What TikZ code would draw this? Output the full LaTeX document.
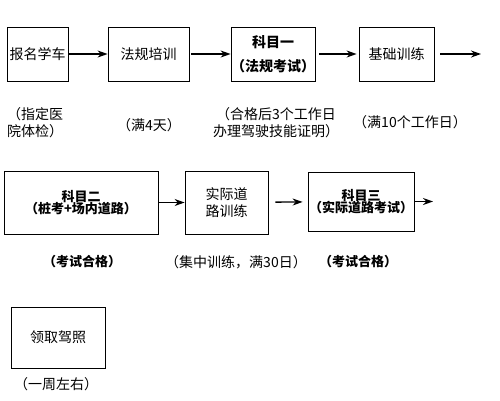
\documentclass[tikz,border=0pt]{standalone}
\usepackage{fontspec}
\setmainfont{Noto Sans CJK SC}
\usetikzlibrary{arrows.meta}
\begin{document}
\begin{tikzpicture}
[
    x=1pt, y=-1pt,
    font=\fontsize{14}{17}\selectfont,
    common/.style={shape = rectangle, draw, line width=0.8pt, inner sep=0pt, align=center},
    small/.style={font=\fontsize{13}{14}\selectfont},
    note/.style={shape = rectangle, inner sep=0pt, align=center},
    flow/.style={-{Stealth[length=10pt,width=7pt]}, line width=1.3pt},
]
\useasboundingbox (0,0) rectangle (500,400);
% first row
\node[common, minimum width=61pt, minimum height=54pt] (reg) at (37.5,54) {报名学车};
\node[common, minimum width=81pt, minimum height=54pt] (law) at (148.5,54) {法规培训};
\node[common, minimum width=80pt, minimum height=54pt] (sub1) at (273,54) {\textbf{科目一}\\[7pt]\textbf{（法规考试）}};
\node[common, minimum width=75pt, minimum height=54pt] (basic) at (396.5,54) {基础训练};
\coordinate (end1) at (481,54);
\node[note] (n1) at (35,123) {（指定医\\院体检）};
\node[note] (n2) at (149,125) {（满4天）};
\node[note] (n3) at (276,123) {（合格后3个工作日\\办理驾驶技能证明）};
\node[note] (n4) at (410,122) {（满10个工作日）};
\draw[flow] (reg) -- (law);
\draw[flow, shorten <=2pt] (law) -- (sub1);
\draw[flow, shorten <=4pt, shorten >=2pt] (sub1) -- (basic);
\draw[flow, shorten <=6pt] (basic) -- (end1);
% second row
\node[common, small, minimum width=154pt, minimum height=63pt] (sub2) at (81,202.5) {\textbf{科目二}\\[-2pt]\textbf{（桩考+场内道路）}};
\node[common, minimum width=83pt, minimum height=63pt] (road) at (226.5,202.5) {实际道\\路训练};
\node[common, small, minimum width=106pt, minimum height=59pt] (sub3) at (361,201.5) {\textbf{科目三}\\[-2pt]\textbf{（实际道路考试）}};
\coordinate (end2) at (433,201.5);
\node[note, small] (n5) at (82,262) {\textbf{（考试合格）}};
\node[note] (n6) at (236,262) {（集中训练，满30日）};
\node[note, small] (n7) at (358,262) {\textbf{（考试合格）}};
\draw[flow] (sub2) -- (road);
\draw[flow, shorten <=7pt, shorten >=5pt] (road) -- (sub3);
\draw[flow, shorten <=1pt] (sub3) -- (end2);
% third row
\node[common, minimum width=94pt, minimum height=61pt] (license) at (58,337.5) {领取驾照};
\node[note] (n8) at (56,384) {（一周左右）};
\end{tikzpicture}
\end{document}
